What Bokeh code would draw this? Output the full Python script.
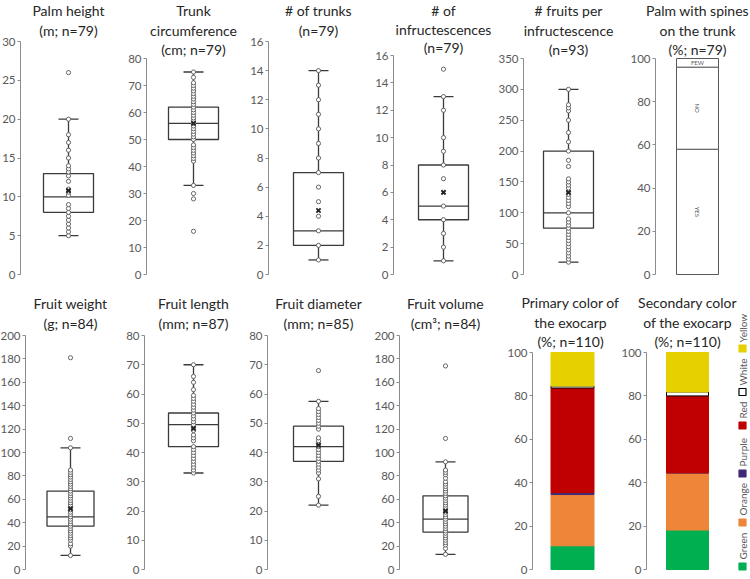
import math
from bokeh.plotting import figure
from bokeh.models import Range1d, FixedTicker, ColumnDataSource, Label
from bokeh.layouts import row, column
from bokeh.embed import file_html
from bokeh.resources import INLINE
from bokeh.core.properties import value

FONT = "Lato"

# ---------------- data ----------------
# box = [lower whisker, Q1, median, Q3, upper whisker]
height_title = ["Palm height", "(m; n=79)"]
height_box = [5, 8, 10, 13, 20]
height_mean = 10.8
height_pts = [5, 5.5, 6, 6.5, 7, 7.5, 8, 8.5, 9, 10.2, 10.6, 11, 12, 12.7, 13.2, 13.6, 14, 15, 16, 17, 18, 20, 26]

trunk_title = ["Trunk", "circumference", "(cm; n=79)"]
trunk_box = [33, 50, 56, 62, 75]
trunk_mean = 56
trunk_pts = [16, 28, 30, 33, 42, 43, 44, 45, 46, 47, 48, 50, 51, 52, 53, 54, 55, 56, 57, 58, 59,
             60, 61, 62, 63, 64, 65, 66, 67, 68, 69, 70, 71, 73, 75]

ntrunks_title = ["# of trunks", "(n=79)"]
ntrunks_box = [1, 2, 3, 7, 14]
ntrunks_mean = 4.4
ntrunks_pts = [1, 2, 3, 4, 5, 6, 7, 8, 9, 10, 11, 12, 13, 14]

ninfr_title = ["# of", "infructescences", "(n=79)"]
ninfr_box = [1, 4, 5, 8, 13]
ninfr_mean = 6
ninfr_pts = [1, 2, 3, 4, 5, 7, 8, 9, 10, 12, 13, 15]

nfruits_title = ["# fruits per", "infructescence", "(n=93)"]
nfruits_box = [20, 75, 100, 200, 300]
nfruits_mean = 133
nfruits_pts = [20, 25, 30, 35, 40, 45, 50, 55, 60, 65, 70, 75, 80, 85, 90, 100, 110, 115, 120, 125,
               130, 135, 140, 145, 150, 155, 175, 185, 200, 215, 230, 250, 265, 270, 275, 300]

spines_title = ["Palm with spines", "on the trunk", "(%; n=79)"]
spines_cats = ["YES", "NO", "FEW"]
spines_pct = [58, 38, 4]

weight_title = ["Fruit weight", "(g; n=84)"]
weight_box = [12, 37, 45, 67, 104]
weight_mean = 52
weight_pts = [12, 20, 22, 25, 27, 29, 31, 33, 35, 37, 39, 41, 43, 45, 47, 49, 51, 53, 55, 57, 59,
              61, 63, 65, 67, 69, 71, 73, 75, 77, 79, 81, 83, 85, 104, 112, 181]

length_title = ["Fruit length", "(mm; n=87)"]
length_box = [33, 42, 49.5, 53.5, 70]
length_mean = 48.2
length_pts = [33, 34, 35, 36, 37, 38, 39, 40, 41, 42, 44, 45, 46, 47.5, 48.5, 49.5, 50.5, 51.5,
              52.5, 53.5, 54.5, 55.5, 56.5, 57.5, 58.5, 59.5, 61.5, 64, 66, 70]

diam_title = ["Fruit diameter", "(mm; n=85)"]
diam_box = [22, 37, 42, 49, 57.5]
diam_mean = 42.5
diam_pts = [22, 25, 31, 33, 34, 35, 36, 37, 38, 39, 40, 41, 42, 42.5, 43, 44, 45, 48, 49, 50,
            51, 52, 53, 54, 55, 57.5, 68]

volume_title = ["Fruit volume", "(cm³; n=84)"]
volume_box = [13, 32, 43, 63, 92]
volume_mean = 50
volume_pts = [13, 18, 21, 23, 25, 27, 29, 31, 33, 35, 37, 39, 41, 43, 45, 47, 49, 51, 53, 55, 57,
              59, 61, 63, 65, 67, 69, 71, 73, 75, 78, 81, 83, 85, 92, 112, 174]

color_cats = ["Green", "Orange", "Purple", "Red", "White", "Yellow"]
color_hex = ["#00B050", "#EE8539", "#3F2A78", "#C00000", "#FFFFFF", "#E6D000"]
primary_title = ["Primary color of", "the exocarp", "(%; n=110)"]
primary_counts = [12, 26, 1, 53, 1, 17]
secondary_title = ["Secondary color", "of the exocarp", "(%; n=110)"]
secondary_counts = [20, 29, 0, 39, 2, 20]

# ---------------- styling helpers ----------------
AX = "#8c8c8c"
TXT = "#595959"
DARK = "#3a3a3a"


def panel(fx, fw, axis_x, cx, fy, fh, top_px, bot_px, ymax, step, title_lines, title_ys, tdx=0):
    """Frame fills the whole canvas; the y axis sits at a fixed location, bounded to [0, ymax]."""
    u = ymax / float(bot_px - top_px)
    y0 = -(fy + fh - bot_px) * u
    y1 = ymax + (top_px - fy) * u
    p = figure(width=fw, height=fh, output_backend="svg", toolbar_location=None,
               title=None, x_axis_type=None,
               x_range=Range1d(fx - cx, fx + fw - cx), y_range=Range1d(y0, y1),
               min_border_left=0, min_border_right=0,
               min_border_top=0, min_border_bottom=0)
    p.grid.visible = False
    p.outline_line_color = None
    ax = p.yaxis[0]
    ax.fixed_location = axis_x - cx
    ax.bounds = (0, ymax)
    ax.ticker = FixedTicker(ticks=list(range(0, ymax + 1, step)))
    ax.axis_line_color = AX
    ax.major_tick_line_color = AX
    ax.minor_tick_line_color = None
    ax.major_tick_out = 3
    ax.major_tick_in = 0
    ax.major_label_standoff = 2
    ax.major_label_text_font = FONT
    ax.major_label_text_font_size = "11.5px"
    ax.major_label_text_color = TXT
    for line, ty in zip(title_lines, title_ys):
        p.add_layout(Label(x=tdx, y=ymax + (top_px - ty) * u, text=line, text_align="center",
                           text_baseline="middle", text_font=FONT, text_font_size="14px",
                           text_color="#262626"))
    return p, u


def boxplot(p, box, mean, pts, bw=50, cw=20):
    lo, q1, med, q3, hi = box
    p.segment(x0=[0, 0], y0=[lo, q3], x1=[0, 0], y1=[q1, hi], line_color=DARK, line_width=1.3)
    p.segment(x0=[-cw / 2, -cw / 2], y0=[lo, hi], x1=[cw / 2, cw / 2], y1=[lo, hi],
              line_color=DARK, line_width=1.3)
    p.quad(left=[-bw / 2], right=[bw / 2], bottom=[q1], top=[q3], fill_color="white",
           line_color=DARK, line_width=1.3)
    p.segment(x0=[-bw / 2], y0=[med], x1=[bw / 2], y1=[med], line_color=DARK, line_width=1.3)
    src = ColumnDataSource(dict(x=[0] * len(pts), y=pts))
    p.scatter("x", "y", source=src, marker="circle", size=4.2, fill_color="white",
              line_color="#666666", line_width=1)
    p.scatter(x=[0], y=[mean], marker="x", size=6, line_color="#222222", line_width=1.8)


def stacked(p, vals, fills, lines, bw):
    tops, bottoms, acc = [], [], 0.0
    for v in vals:
        bottoms.append(acc)
        acc += v
        tops.append(acc)
    src = ColumnDataSource(dict(b=bottoms, t=tops, f=fills, l=lines))
    p.quad(left=-bw / 2, right=bw / 2, bottom="b", top="t", fill_color="f", line_color="l",
           line_width=1, source=src)
    return bottoms, tops


T2a = [10, 30]
T3a = [10, 30, 49]
T2b = [303, 323]
T3b = [302, 322, 341]

# ---------------- top row (canvas y 0..290, axis zero at y=274) ----------------
p1, _ = panel(0, 125, 20, 68, 0, 290, 41, 274, 30, 5, height_title, T2a)
boxplot(p1, height_box, height_mean, height_pts)

p2, _ = panel(125, 125, 146, 193, 0, 290, 58, 274, 80, 10, trunk_title, T3a)
boxplot(p2, trunk_box, trunk_mean, trunk_pts)

p3, _ = panel(250, 125, 268, 318, 0, 290, 41, 274, 16, 2, ntrunks_title, T2a)
boxplot(p3, ntrunks_box, ntrunks_mean, ntrunks_pts)

p4, _ = panel(375, 121, 393, 443, 0, 290, 55, 274, 16, 2, ninfr_title, [10, 29, 47])
boxplot(p4, ninfr_box, ninfr_mean, ninfr_pts)

p5, _ = panel(496, 129, 523, 568, 0, 290, 58, 274, 350, 50, nfruits_title, T3a)
boxplot(p5, nfruits_box, nfruits_mean, nfruits_pts)

p6, _ = panel(625, 125, 655, 697, 0, 290, 58, 274, 100, 20, spines_title, T3a)
b6, t6 = stacked(p6, spines_pct, ["white"] * 3, ["#595959"] * 3, 42)
mids = [(b + t) / 2 for b, t in zip(b6, t6)]
p6.text(x=[0] * 3, y=mids, text=spines_cats, angle=[-math.pi / 2, -math.pi / 2, 0],
        text_font=value(FONT), text_font_size="6px", text_color="#595959",
        text_align="center", text_baseline="middle")

# ---------------- bottom row (canvas y 290..579, axis zero at y=569) ----------------
p7, _ = panel(0, 125, 25, 70, 290, 289, 335, 569, 200, 20, weight_title, T2b)
boxplot(p7, weight_box, weight_mean, weight_pts, bw=47)

p8, _ = panel(125, 123, 144, 193, 290, 289, 335, 569, 80, 10, length_title, T2b)
boxplot(p8, length_box, length_mean, length_pts)

p9, _ = panel(248, 124, 267, 318, 290, 289, 335, 569, 80, 10, diam_title, T2b)
boxplot(p9, diam_box, diam_mean, diam_pts)

p10, _ = panel(372, 128, 399, 445, 290, 289, 335, 569, 200, 20, volume_title, T2b)
boxplot(p10, volume_box, volume_mean, volume_pts, bw=45)

line_cols = ["black" if c == "#FFFFFF" else c for c in color_hex]

p11, _ = panel(500, 120, 532, 572, 290, 289, 352, 569, 100, 20, primary_title, T3b, tdx=-2)
stacked(p11, [100.0 * c / sum(primary_counts) for c in primary_counts], color_hex, line_cols, 43)

p12, u12 = panel(620, 130, 646, 687, 290, 289, 352, 569, 100, 20, secondary_title, T3b)
stacked(p12, [100.0 * c / sum(secondary_counts) for c in secondary_counts], color_hex, line_cols, 42)

# legend: rotated entries stacked bottom-to-top along the right edge (canvas px positions)
LEG_X = 742 - 687
sq_px = [566, 522, 473, 425, 391.5, 348]      # square centres
tx_px = [559, 515, 466, 418, 385, 342]        # text start (lower end)
p12.scatter(x=[LEG_X] * 6, y=[(569 - s) * u12 for s in sq_px], marker="square", size=7,
            fill_color=color_hex, line_color=line_cols, line_width=1.2)
p12.text(x=[LEG_X] * 6, y=[(569 - t) * u12 for t in tx_px], text=color_cats, angle=math.pi / 2,
         text_font=value(FONT), text_font_size="10px", text_color=TXT, text_align="left",
         text_baseline="middle")

layout = column(row(p1, p2, p3, p4, p5, p6), row(p7, p8, p9, p10, p11, p12))
open("out.html", "w").write(file_html(layout, INLINE))
